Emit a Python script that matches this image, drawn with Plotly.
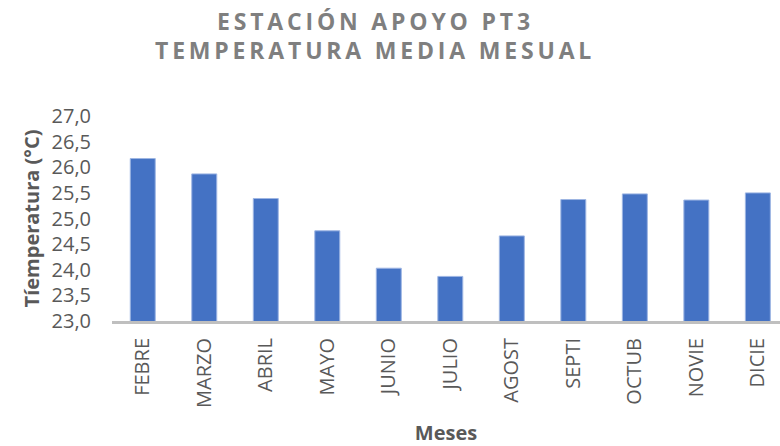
import plotly.graph_objects as go

meses = ["FEBRE", "MARZO", "ABRIL", "MAYO", "JUNIO", "JULIO",
         "AGOST", "SEPTI", "OCTUB", "NOVIE", "DICIE"]
temperatura = [26.17, 25.87, 25.39, 24.76, 24.03, 23.87,
               24.66, 25.37, 25.48, 25.36, 25.50]
y_ticks = [23.0, 23.5, 24.0, 24.5, 25.0, 25.5, 26.0, 26.5, 27.0]

titulo_1 = "ESTACIÓN APOYO PT3"
titulo_2 = "TEMPERATURA MEDIA MESUAL"


def espaciado(texto, sep="\u2009"):
    # widen the title by placing thin spaces between the letters
    return sep.join(texto)


FONT = "Open Sans"
GRIS = "#595959"
W, H = 780, 446

fig = go.Figure(
    go.Bar(
        x=meses,
        y=temperatura,
        marker=dict(color="#4472c4", line=dict(color="#9db5e3", width=1)),
        showlegend=False,
    )
)

titulo_font = dict(family=FONT, size=23, color="#7f7f7f", weight="bold")
for texto, y_px in [(titulo_1, 21), (titulo_2, 50)]:
    fig.add_annotation(
        text=espaciado(texto),
        xref="paper", yref="paper",
        x=(373 - 112) / (W - 112),
        y=1 + (116 - y_px) / (H - 116 - 125),
        xanchor="center", yanchor="middle",
        showarrow=False,
        font=titulo_font,
    )

fig.update_layout(
    width=W,
    height=H,
    margin=dict(l=112, r=0, t=116, b=125),
    paper_bgcolor="white",
    plot_bgcolor="white",
    separators=",.",
    bargap=0.594,
    font=dict(family=FONT, color=GRIS),
    xaxis=dict(
        range=[-0.5, 10.36],
        showline=True,
        linecolor="#bfbfbf",
        linewidth=3,
        ticks="",
        tickangle=-90,
        tickfont=dict(family=FONT, size=20, color=GRIS),
        ticklabelstandoff=6,
        title=dict(
            text="Meses",
            font=dict(family=FONT, size=20, color=GRIS, weight="bold"),
            standoff=20,
        ),
        showgrid=False,
    ),
    yaxis=dict(
        range=[23.0, 27.0],
        tickvals=y_ticks,
        tickformat=".1f",
        showgrid=False,
        showline=False,
        zeroline=False,
        ticks="",
        tickfont=dict(family=FONT, size=20, color=GRIS),
        ticklabelstandoff=20,
        title=dict(
            text="Tíemperatura (°C)",
            font=dict(family=FONT, size=20, color=GRIS, weight="bold"),
            standoff=6,
        ),
    ),
)

fig.write_html("out.html")
